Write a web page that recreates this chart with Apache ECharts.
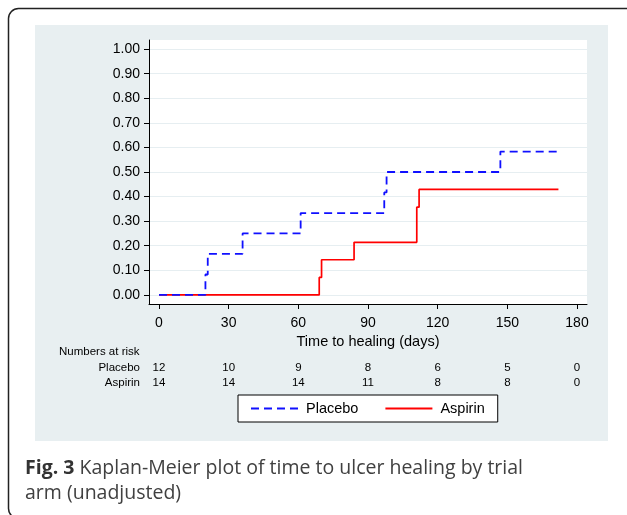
<!DOCTYPE html>
<html><head><meta charset="utf-8">
<script src="https://cdn.jsdelivr.net/npm/echarts@6/dist/echarts.min.js"></script>
<style>html,body{margin:0;padding:0;background:#fff}#c{width:627px;height:515px}</style>
</head><body><div id="c"></div>
<script>
// ---- data ----
const placeboTimes = [0, 20, 21, 36, 61, 97, 98, 147, 172];
const placeboCum   = [0, 0.083, 0.167, 0.25, 0.333, 0.417, 0.5, 0.583, 0.583];
const aspirinTimes = [0, 69, 70, 84, 111, 112, 172];
const aspirinCum   = [0, 0.071, 0.143, 0.214, 0.357, 0.429, 0.429];
const xTicks = [0, 30, 60, 90, 120, 150, 180];
const yTicks = [0, 0.1, 0.2, 0.3, 0.4, 0.5, 0.6, 0.7, 0.8, 0.9, 1.0];
const riskPlacebo = [12, 10, 9, 8, 6, 5, 0];
const riskAspirin = [14, 14, 14, 11, 8, 8, 0];
const xTitle = 'Time to healing (days)';
const captionBold = 'Fig. 3';
const captionLine1 = ' Kaplan-Meier plot of time to ulcer healing by trial';
const captionLine2 = 'arm (unadjusted)';

const FONT = 'Liberation Sans';
const chart = echarts.init(document.getElementById('c'), null, {renderer: 'canvas'});

const placeboData = placeboTimes.map((t, i) => [t, placeboCum[i]]);
const aspirinData = aspirinTimes.map((t, i) => [t, aspirinCum[i]]);

const option = {
  backgroundColor: '#fff',
  animation: false,
  textStyle: {fontFamily: FONT},
  grid: {left: 149, right: 40, top: 40, bottom: 211, show: true, backgroundColor: '#fff', borderWidth: 0},
  xAxis: {
    type: 'value', min: -4.3, max: 184.3,
    axisLine: {show: true, onZero: false, lineStyle: {color: '#000', width: 1}},
    axisTick: {show: true, length: 5, lineStyle: {color: '#000'}, customValues: xTicks},
    axisLabel: {color: '#000', fontSize: 14, margin: 12, customValues: xTicks, fontFamily: FONT},
    splitLine: {show: false},
    name: xTitle, nameLocation: 'middle', nameGap: 29,
    nameTextStyle: {color: '#000', fontSize: 14.5, fontFamily: FONT}
  },
  yAxis: {
    type: 'value', min: -0.037, max: 1.037,
    axisLine: {show: true, onZero: false, lineStyle: {color: '#000', width: 1}},
    axisTick: {show: true, length: 5, lineStyle: {color: '#000'}, customValues: yTicks},
    axisLabel: {color: '#000', fontSize: 14, margin: 9, customValues: yTicks, fontFamily: FONT,
      formatter: v => v.toFixed(2)},
    splitLine: {show: true, lineStyle: {color: '#e6eef1', width: 1}}
  },
  legend: {
    left: 238, top: 395,
    data: ['Placebo', 'Aspirin'],
    itemWidth: 47, itemHeight: 14, itemGap: 26,
    padding: [6, 13, 6, 12],
    borderColor: '#000', borderWidth: 1, backgroundColor: '#fff',
    itemStyle: {opacity: 0, borderWidth: 0},
    textStyle: {color: '#000', fontSize: 14.5, fontFamily: FONT, padding: [0, 0, 0, 3]}
  },
  series: [
    {name: 'Aspirin', type: 'line', step: 'end', data: aspirinData, symbol: 'none', z: 2,
      lineStyle: {color: '#ff0000', width: 1.7}, itemStyle: {color: '#ff0000'}},
    {name: 'Placebo', type: 'line', step: 'end', data: placeboData, symbol: 'none', z: 3,
      lineStyle: {color: '#1010ff', width: 1.8, type: [8, 5]}, itemStyle: {color: '#1010ff'}}
  ],
  graphic: [
    {type: 'rect', id: 'panel', z: -100, silent: true,
      shape: {x: 35, y: 25, width: 573, height: 416}, style: {fill: '#e8eff1'}},
    {type: 'rect', id: 'frame', z: -90, silent: true,
      shape: {x: 8.5, y: 8.5, width: 660, height: 510, r: 10}, style: {fill: null, stroke: '#222', lineWidth: 1.5}},
    {type: 'text', id: 'cap1', left: 25, top: 458, z: 10,
      style: {text: '{b|' + captionBold + '}' + captionLine1, fill: '#404040', font: '19.5px "Open Sans"',
        rich: {b: {fontWeight: 'bold', fontSize: 19.5, fontFamily: 'Open Sans', fill: '#333'}}}},
    {type: 'text', id: 'cap2', left: 25, top: 483, z: 10,
      style: {text: captionLine2, fill: '#404040', font: '19.5px "Open Sans"'}}
  ]
};
chart.setOption(option);

// numbers-at-risk table, placed through the x axis scale
const extra = [];
extra.push({type: 'text', id: 'nar', left: 59, top: 346, z: 10,
  style: {text: 'Numbers at risk', fill: '#000', font: '11.5px "Liberation Sans"'}});
extra.push({type: 'text', id: 'lblP', z: 10, x: 140, y: 368,
  style: {text: 'Placebo', fill: '#000', font: '11.5px "Liberation Sans"', align: 'right', verticalAlign: 'middle'}});
extra.push({type: 'text', id: 'lblA', z: 10, x: 140, y: 383,
  style: {text: 'Aspirin', fill: '#000', font: '11.5px "Liberation Sans"', align: 'right', verticalAlign: 'middle'}});
xTicks.forEach((t, i) => {
  const px = chart.convertToPixel({xAxisIndex: 0}, t);
  extra.push({type: 'text', id: 'rp' + i, z: 10, x: px, y: 368,
    style: {text: String(riskPlacebo[i]), fill: '#000', font: '11.5px "Liberation Sans"', align: 'center', verticalAlign: 'middle'}});
  extra.push({type: 'text', id: 'ra' + i, z: 10, x: px, y: 383,
    style: {text: String(riskAspirin[i]), fill: '#000', font: '11.5px "Liberation Sans"', align: 'center', verticalAlign: 'middle'}});
});
chart.setOption({graphic: extra});
</script></body></html>
